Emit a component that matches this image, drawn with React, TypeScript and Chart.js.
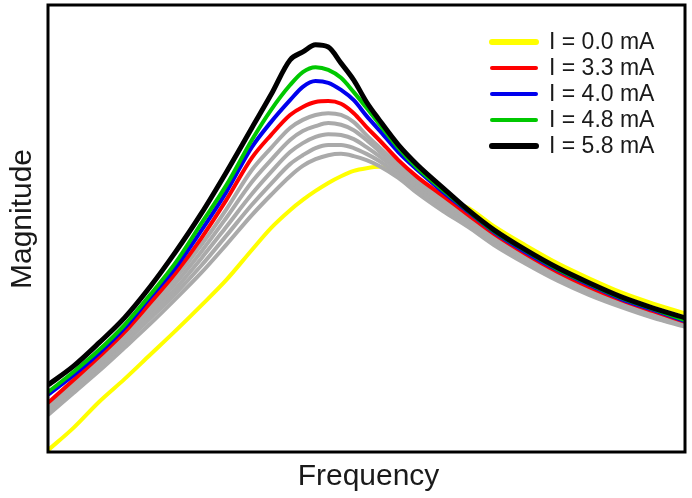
import { useEffect, useRef } from "react";
import { Chart, registerables } from "chart.js";

Chart.register(...registerables);

// Frequency axis (arbitrary units, no tick labels in the reference)
const frequency = [0, 4, 8, 12, 16, 20, 24, 28, 32, 35, 38, 40, 42, 44, 46, 48, 50, 52, 55, 58, 62, 66, 70, 75, 80, 85, 90, 95, 100];

// Magnitude (arbitrary units)
const magI00 = [0.4, 5.4, 11.2, 16.3, 21.7, 27.1, 32.7, 38.5, 45.2, 50.1, 54.1, 56.4, 58.4, 60.2, 61.7, 62.9, 63.5, 63.8, 61.7, 59.3, 56.8, 54.6, 50.5, 46.2, 42.2, 38.8, 35.7, 33.2, 31.0];
const magGray1 = [10.3, 15.4, 20.6, 26.2, 32.4, 38.9, 46.2, 54.3, 63.1, 68.0, 72.5, 74.3, 75.4, 75.8, 75.4, 73.8, 70.9, 68.2, 64.2, 60.6, 56.6, 52.6, 48.3, 43.8, 39.8, 36.5, 33.6, 31.1, 28.9];
const magGray2 = [9.8, 14.8, 19.9, 25.5, 31.5, 37.7, 44.7, 52.4, 60.4, 65.3, 69.8, 71.8, 72.9, 73.6, 73.2, 72.0, 69.8, 67.3, 63.5, 60.0, 55.9, 52.1, 47.9, 43.4, 39.4, 36.0, 33.1, 30.6, 28.6];
const magGray3 = [9.4, 14.3, 19.5, 24.8, 30.6, 36.5, 43.2, 50.4, 57.7, 62.6, 67.1, 69.1, 70.5, 71.1, 70.9, 70.0, 68.2, 66.2, 62.9, 59.3, 55.3, 51.5, 47.4, 43.0, 38.9, 35.8, 32.9, 30.4, 28.4];
const magGray4 = [8.9, 13.9, 18.8, 24.2, 29.8, 35.4, 41.6, 48.4, 55.3, 60.0, 64.4, 66.4, 68.0, 68.7, 68.7, 68.0, 66.7, 65.1, 62.0, 58.6, 54.6, 51.0, 47.0, 42.5, 38.7, 35.6, 32.7, 30.2, 28.2];
const magGray5 = [8.3, 13.2, 18.1, 23.3, 28.6, 34.2, 40.0, 46.4, 53.0, 57.5, 61.7, 64.0, 65.5, 66.4, 66.7, 66.2, 65.3, 64.0, 61.3, 57.9, 53.9, 50.3, 46.3, 42.1, 38.3, 35.1, 32.4, 30.0, 28.0];
const magI33 = [11.0, 16.1, 21.3, 26.8, 33.3, 40.0, 47.7, 56.4, 65.8, 70.9, 75.4, 77.2, 78.3, 78.5, 77.9, 75.8, 72.7, 69.8, 65.3, 61.5, 57.3, 53.0, 48.8, 44.3, 40.3, 36.9, 34.0, 31.5, 29.1];
const magI40 = [12.8, 17.2, 22.1, 27.7, 34.5, 41.2, 49.4, 58.2, 68.2, 73.8, 78.7, 81.7, 83.0, 82.6, 81.0, 78.7, 75.2, 72.0, 67.1, 63.1, 58.2, 53.7, 49.2, 44.7, 40.7, 37.4, 34.2, 31.8, 29.3];
const magI48 = [13.4, 17.9, 22.8, 28.4, 35.1, 42.3, 51.0, 59.7, 69.8, 76.5, 82.1, 85.0, 86.1, 85.5, 83.7, 80.5, 77.0, 73.4, 68.0, 63.5, 58.6, 53.9, 49.4, 45.0, 40.9, 37.6, 34.5, 32.0, 29.5];
const magI58 = [15.0, 19.2, 24.4, 30.0, 36.9, 44.7, 53.2, 62.6, 72.5, 79.9, 87.7, 89.5, 91.1, 90.6, 87.0, 83.2, 78.3, 74.3, 68.7, 64.2, 59.1, 54.1, 49.7, 45.2, 41.2, 37.8, 34.7, 32.2, 30.0];

const legendLabels = ["I = 0.0 mA", "I = 3.3 mA", "I = 4.0 mA", "I = 4.8 mA", "I = 5.8 mA"];
const xTitle = "Frequency";
const yTitle = "Magnitude";

const FONT = '"Liberation Sans", Arial, Helvetica, sans-serif';

const toPoints = (ys: number[]) => ys.map((y, i) => ({ x: frequency[i], y }));

const frameLegendTitles = {
  id: "frameLegendTitles",
  afterDraw(chart: any) {
    const { ctx, chartArea } = chart;
    const { left, right, top, bottom } = chartArea;
    ctx.save();
    // frame
    ctx.strokeStyle = "#000";
    ctx.lineWidth = 3;
    ctx.strokeRect(left, top, right - left, bottom - top);
    // axis titles
    ctx.fillStyle = "#1a1a1a";
    ctx.font = `30px ${FONT}`;
    ctx.textAlign = "center";
    ctx.textBaseline = "middle";
    ctx.fillText(xTitle, (left + right) / 2 + 2, bottom + 25);
    ctx.save();
    ctx.translate(left - 25, top + 214);
    ctx.rotate(-Math.PI / 2);
    ctx.fillText(yTitle, 0, 0);
    ctx.restore();
    // legend (inside the plot, top right)
    const items = chart.data.datasets.filter((d: any) => d.label);
    const x0 = right - 193;
    const y0 = top + 37;
    const gap = 26;
    ctx.font = `23px ${FONT}`;
    ctx.textBaseline = "middle";
    ctx.textAlign = "left";
    ctx.lineCap = "round";
    items.forEach((d: any, i: number) => {
      const y = y0 + i * gap;
      ctx.strokeStyle = d.borderColor;
      ctx.lineWidth = d.legendWidth || 4;
      ctx.beginPath();
      ctx.moveTo(x0, y);
      ctx.lineTo(x0 + 44, y);
      ctx.stroke();
      ctx.fillStyle = "#1a1a1a";
      ctx.fillText(d.label, x0 + 57, y + 1);
    });
    ctx.restore();
  },
};

export default function App() {
  const canvasRef = useRef<HTMLCanvasElement | null>(null);

  useEffect(() => {
    document.body.style.margin = "0";
    const canvas = canvasRef.current;
    if (!canvas) return;
    const line = (label: string, data: number[], color: string, width: number, order: number, legendWidth?: number) => ({
      label,
      data: toPoints(data),
      borderColor: color,
      backgroundColor: color,
      borderWidth: width,
      pointRadius: 0,
      fill: false,
      cubicInterpolationMode: "monotone",
      borderJoinStyle: "round",
      order,
      legendWidth,
    });
    const chart = new Chart(canvas, {
      type: "line",
      data: {
        datasets: [
          line(legendLabels[0], magI00, "#ffff00", 4, 9, 6),
          line(legendLabels[1], magI33, "#ff0000", 4, 3, 4),
          line(legendLabels[2], magI40, "#0000ee", 4, 2, 4),
          line(legendLabels[3], magI48, "#00c800", 4, 1, 4),
          line(legendLabels[4], magI58, "#000000", 5, 0, 6),
          line("", magGray1, "#aaaaaa", 4, 4),
          line("", magGray2, "#aaaaaa", 4, 5),
          line("", magGray3, "#aaaaaa", 4, 6),
          line("", magGray4, "#aaaaaa", 4, 7),
          line("", magGray5, "#aaaaaa", 4, 8),
        ] as any,
      },
      options: {
        animation: false,
        responsive: false,
        maintainAspectRatio: false,
        layout: { padding: { top: 5, right: 7, left: 0, bottom: 0 } },
        plugins: { legend: { display: false }, tooltip: { enabled: false } },
        scales: {
          x: {
            type: "linear",
            min: 0,
            max: 100,
            grid: { display: false },
            border: { display: false },
            ticks: { display: false },
            title: { display: false, text: xTitle },
            afterFit: (s: any) => { s.height = 46; },
          },
          y: {
            min: 0,
            max: 100,
            grid: { display: false },
            border: { display: false },
            ticks: { display: false },
            title: { display: false, text: yTitle },
            afterFit: (s: any) => { s.width = 48; },
          },
        },
      },
      plugins: [frameLegendTitles],
    });
    return () => chart.destroy();
  }, []);

  return (
    <div style={{ width: 692, height: 498, position: "relative" }}>
      <canvas ref={canvasRef} width={692} height={498} style={{ display: "block" }} />
    </div>
  );
}
